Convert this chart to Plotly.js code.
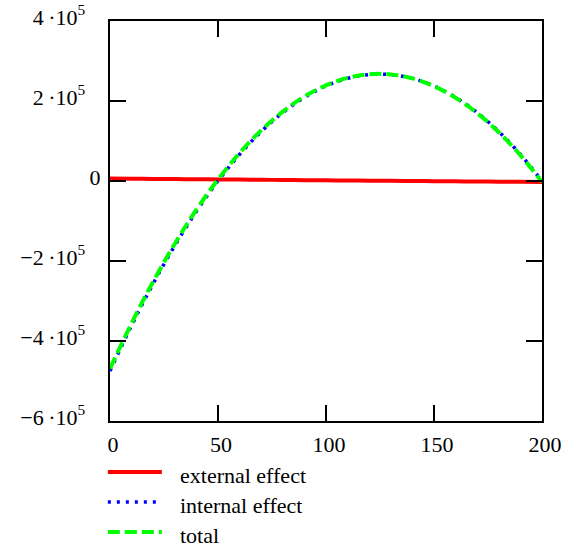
<!DOCTYPE html>
<html>
<head>
<meta charset="utf-8">
<script src="https://cdn.plot.ly/plotly-3.0.1.min.js"></script>
<style>html,body{margin:0;padding:0;background:#fff;}#chart{width:567px;height:550px;}</style>
</head>
<body>
<div id="chart"></div>
<script>
const xValues = [0,10,20,30,40,50,60,70,80,90,100,110,120,130,140,150,160,170,180,190,200];
const externalEffect = [6000,5575,5150,4725,4300,3875,3450,3025,2600,2175,1750,1325,900,475,50,-375,-800,-1225,-1650,-2075,-2500];
const internalEffect = [-475000,-361000,-256500,-161500,-76000,0,66500,123500,171000,209000,237500,256500,266000,266000,256500,237500,209000,171000,123500,66500,0];
const totalEffect = [-469000,-355425,-251350,-156775,-71700,3875,69950,126525,173600,211175,239250,257825,266900,266475,256550,237125,208200,169775,121850,64425,-2500];
const seriesNames = ["external effect","internal effect","total"];
const xTickVals = [0,50,100,150,200];
const yTickVals = [-600000,-400000,-200000,0,200000,400000];
const yTickText = ["\u22126\u2009\u00b710<sup>5</sup>\u2002\u2009","\u22124\u2009\u00b710<sup>5</sup>\u2002\u2009","\u22122\u2009\u00b710<sup>5</sup>\u2002\u2009","0","2\u2009\u00b710<sup>5</sup>\u2002\u2009","4\u2009\u00b710<sup>5</sup>\u2002\u2009"];

const FAM = "Liberation Serif";
const font = {family: FAM, size: 22, color: "#000"};
const colors = ["#ff0000", "#0000ff", "#00ff00"];
const widths = [4, 3.5, 4];
const dashes = ["solid", "3px,6px", "12px,5px"];

const traces = [externalEffect, internalEffect, totalEffect].map((ys, i) => ({
  x: xValues, y: ys, name: seriesNames[i], mode: "lines", showlegend: false,
  line: {color: colors[i], width: widths[i], dash: dashes[i], shape: "spline"}
}));

const legendRowsY = [-0.1275, -0.2025, -0.2775];
const shapes = seriesNames.map((n, i) => ({
  type: "line", xref: "paper", yref: "paper", x0: -0.005, x1: 0.12, y0: legendRowsY[i], y1: legendRowsY[i],
  line: {color: colors[i], width: widths[i], dash: dashes[i]}
}));
const annotations = seriesNames.map((n, i) => ({
  text: n, xref: "paper", yref: "paper", x: 0.158, y: legendRowsY[i] - 0.008, xanchor: "left", yanchor: "middle",
  showarrow: false, font: {family: FAM, size: 22, color: "#000"}
}));

const layout = {
  width: 567, height: 550,
  margin: {l: 110, r: 25, t: 21, b: 129, pad: 0},
  paper_bgcolor: "#fff", plot_bgcolor: "#fff",
  font: font,
  showlegend: false,
  shapes: shapes,
  annotations: annotations,
  xaxis: {range: [0, 200], tickvals: xTickVals, ticks: "inside", ticklen: 16, tickwidth: 2, tickcolor: "#000",
          showline: true, linecolor: "#000", linewidth: 2, mirror: "ticks", showgrid: false, zeroline: false,
          ticklabelstandoff: 3, ticklabelshift: 3, tickfont: font},
  yaxis: {range: [-600000, 400000], tickvals: yTickVals, ticktext: yTickText, ticks: "inside", ticklen: 16, tickwidth: 2, tickcolor: "#000",
          showline: true, linecolor: "#000", linewidth: 2, mirror: "ticks", showgrid: false, zeroline: false,
          ticklabelstandoff: 3, ticklabelshift: -4, tickfont: font}
};

Plotly.newPlot("chart", traces, layout, {displayModeBar: false, staticPlot: true});
</script>
</body>
</html>
